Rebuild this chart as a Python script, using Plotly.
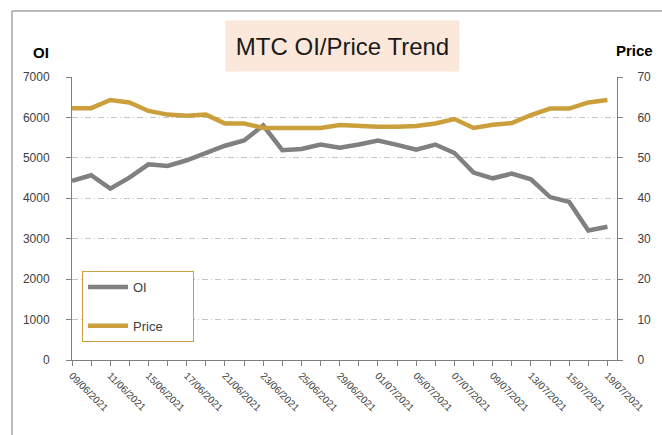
import plotly.graph_objects as go

dates = ["09/06/2021", "10/06/2021", "11/06/2021", "14/06/2021", "15/06/2021", "16/06/2021",
         "17/06/2021", "18/06/2021", "21/06/2021", "22/06/2021", "23/06/2021", "24/06/2021",
         "25/06/2021", "28/06/2021", "29/06/2021", "30/06/2021", "01/07/2021", "02/07/2021",
         "05/07/2021", "06/07/2021", "07/07/2021", "08/07/2021", "09/07/2021", "12/07/2021",
         "13/07/2021", "14/07/2021", "15/07/2021", "16/07/2021", "19/07/2021"]
oi = [4430, 4570, 4240, 4510, 4840, 4800, 4940, 5120, 5300, 5430, 5800, 5190, 5220, 5330, 5250,
      5330, 5430, 5320, 5205, 5330, 5120, 4635, 4494, 4610, 4470, 4030, 3910, 3205, 3296]
price = [62.3, 62.3, 64.3, 63.7, 61.6, 60.7, 60.4, 60.7, 58.5, 58.5, 57.4, 57.4, 57.4, 57.4, 58.1,
         57.8, 57.7, 57.7, 57.9, 58.5, 59.6, 57.4, 58.2, 58.6, 60.6, 62.2, 62.2, 63.7, 64.3]
tick_text = [d if i % 2 == 0 else "" for i, d in enumerate(dates)]

GRAY = "#808080"
GOLD = "#CBA03C"
FONT = "Liberation Sans, Arial, sans-serif"
GRID_DASH = "6px,3px,1px,3px"
PAD = "\u00a0" * 7

fig = go.Figure()
fig.add_trace(go.Scatter(x=dates, y=oi, name="OI", mode="lines",
                         line=dict(color=GRAY, width=4.5), legendgroup="a"))
fig.add_trace(go.Scatter(x=dates, y=price, name="Price" + PAD, mode="lines", yaxis="y2",
                         line=dict(color=GOLD, width=4.5), legendgroup="b"))

fig.update_layout(
    width=662, height=435,
    margin=dict(l=72, r=45, t=77, b=75),
    paper_bgcolor="white", plot_bgcolor="white",
    font=dict(family=FONT, color="#404040", size=12),
    showlegend=True,
    legend=dict(x=(82 - 72) / 545, y=(360 - 271) / 283, xanchor="left", yanchor="top",
                bordercolor=GOLD, borderwidth=1, bgcolor="white",
                font=dict(size=13, color="#404040"), tracegroupgap=19,
                traceorder="grouped", itemwidth=40),
    xaxis=dict(type="category", range=[0, 28.5], tickmode="array", tickvals=dates,
               ticktext=tick_text, tickangle=45, ticks="outside", ticklen=5,
               tickcolor="#808080", showline=True, linecolor="#808080", linewidth=1,
               showgrid=False, tickfont=dict(size=10, color="#404040")),
    yaxis=dict(range=[0, 7000], dtick=1000, showline=True, linecolor="#808080", linewidth=1,
               ticks="outside", ticklen=5, tickcolor="#808080", showgrid=True,
               gridcolor="#C4C4C4", griddash=GRID_DASH, gridwidth=1, zeroline=False,
               tickfont=dict(size=12, color="#404040"), ticklabelstandoff=14),
    yaxis2=dict(range=[0, 70], dtick=10, overlaying="y", side="right", showline=True,
                linecolor="#808080", linewidth=1, ticks="outside", ticklen=5,
                tickcolor="#808080", showgrid=False, zeroline=False,
                tickfont=dict(size=12, color="#404040"), ticklabelstandoff=12),
)

# axis titles
fig.add_annotation(text="<b>OI</b>", xref="paper", yref="paper", x=(41 - 72) / 545,
                   y=(360 - 52) / 283, showarrow=False, font=dict(size=15, color="#000000"),
                   xanchor="center", yanchor="middle")
fig.add_annotation(text="<b>Price</b>", xref="paper", yref="paper", x=(634 - 72) / 545,
                   y=(360 - 50) / 283, showarrow=False, font=dict(size=15, color="#000000"),
                   xanchor="center", yanchor="middle")
# title box
fig.add_annotation(text="MTC OI/Price Trend", xref="paper", yref="paper",
                   x=(342 - 72) / 545, y=(360 - 46.5) / 283, showarrow=False,
                   font=dict(size=24, color="#1a1a1a"), bgcolor="#FCE8DA",
                   width=233, height=50, borderpad=0, xanchor="center", yanchor="middle")
# outer chart border (top and left)
fig.add_shape(type="line", xref="paper", yref="paper", x0=(12 - 72) / 545, x1=(662 - 72) / 545,
              y0=(360 - 11) / 283, y1=(360 - 11) / 283, line=dict(color="#A6A6A6", width=1.5))
fig.add_shape(type="line", xref="paper", yref="paper", x0=(12 - 72) / 545, x1=(12 - 72) / 545,
              y0=(360 - 11) / 283, y1=(360 - 440) / 283, line=dict(color="#A6A6A6", width=1.5))

fig.write_html("out.html", config={"displayModeBar": False},
               post_script="document.body.style.margin='0';")
